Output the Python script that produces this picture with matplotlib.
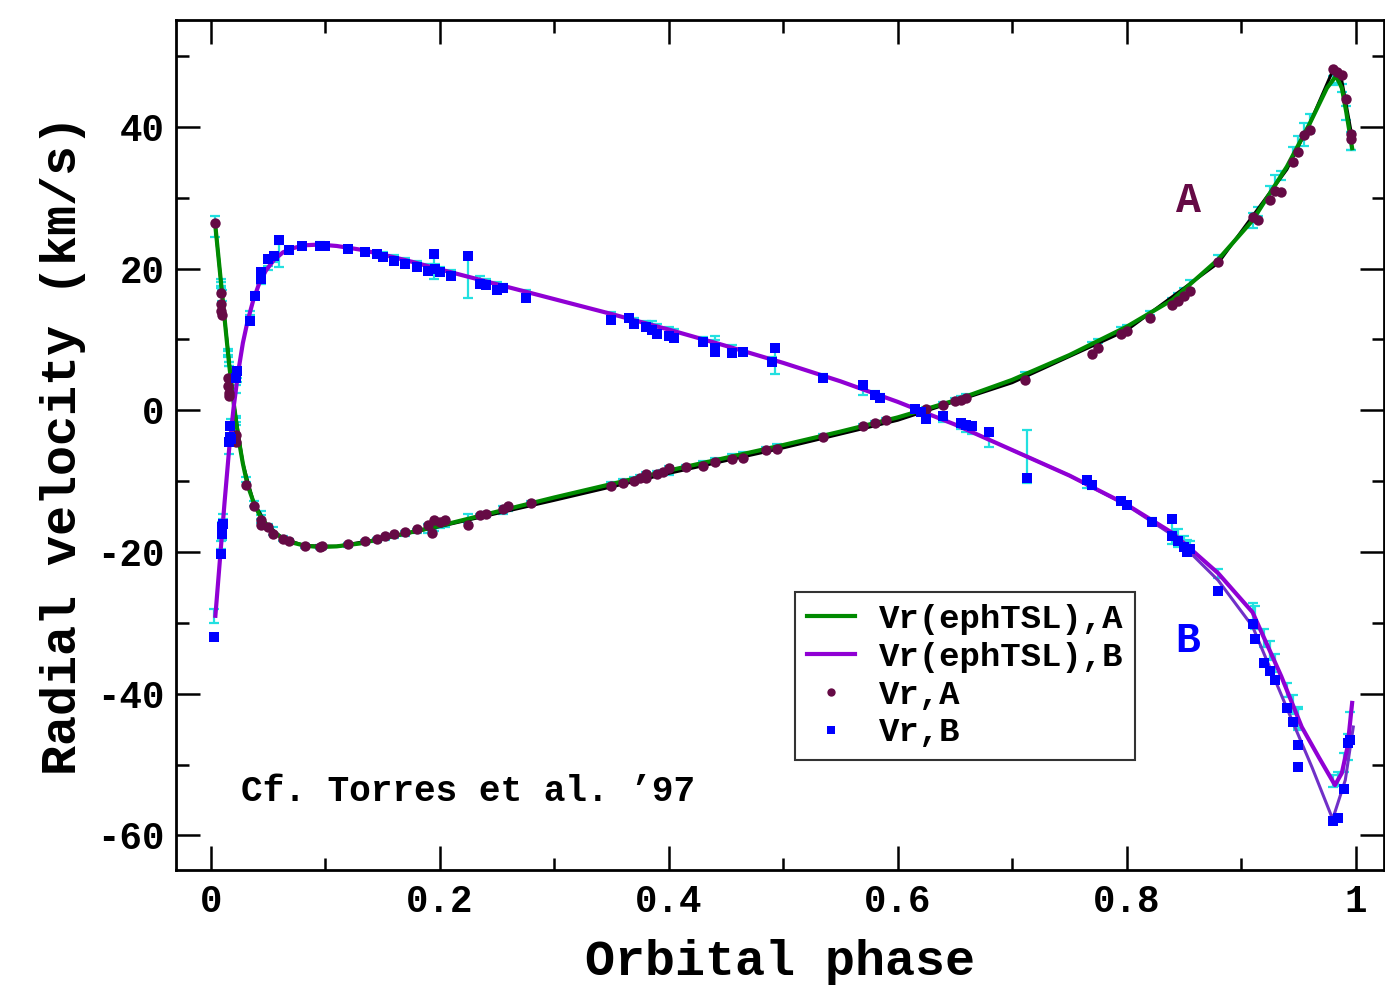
import matplotlib

matplotlib.use("Agg")
import matplotlib.pyplot as plt
from matplotlib.ticker import MultipleLocator, FuncFormatter
import numpy as np

plt.rcParams["font.family"] = ["Liberation Mono", "DejaVu Sans Mono"]
plt.rcParams["font.weight"] = "bold"
plt.rcParams["axes.unicode_minus"] = False

# model curves (ephTSL)
model_a_phase = [0.004, 0.008, 0.012, 0.016, 0.020, 0.024, 0.028, 0.032, 0.037, 0.042,
                 0.048, 0.055, 0.063, 0.072, 0.082, 0.095, 0.11, 0.13, 0.15, 0.175,
                 0.20, 0.25, 0.30, 0.35, 0.40, 0.45, 0.50, 0.55, 0.60, 0.65,
                 0.70, 0.75, 0.80, 0.84, 0.88, 0.91, 0.94, 0.96, 0.975, 0.983,
                 0.988, 0.992, 0.997]
model_a_vr = [26.0, 19.5, 13.0, 6.5, 1.0, -3.8, -7.5, -10.5, -12.8, -14.6,
              -16.0, -17.2, -18.1, -18.7, -19.1, -19.3, -19.2, -18.8, -18.1, -17.2,
              -16.3, -14.3, -12.3, -10.4, -8.5, -6.7, -4.9, -3.0, -1.0, 1.4,
              4.3, 7.8, 11.8, 15.6, 21.3, 26.8, 34.4, 40.5, 45.5, 47.2,
              45.5, 42.0, 37.0]

# thin black reference curve under A
ref_a_phase = [0.004, 0.012, 0.020, 0.028, 0.037, 0.048, 0.063, 0.082, 0.11, 0.15,
               0.20, 0.30, 0.40, 0.50, 0.60, 0.70, 0.80, 0.88, 0.94, 0.96,
               0.981, 0.988, 0.992, 0.997]
ref_a_vr = [26.0, 13.0, 1.0, -7.5, -12.8, -16.0, -18.1, -19.1, -19.2, -18.1,
            -16.4, -12.7, -8.9, -5.3, -1.4, 3.9, 11.3, 20.8, 34.0, 40.5,
            48.3, 46.5, 43.0, 38.5]

model_b_phase = [0.004, 0.008, 0.012, 0.016, 0.020, 0.024, 0.028, 0.032, 0.037, 0.042,
                 0.048, 0.055, 0.063, 0.072, 0.082, 0.095, 0.11, 0.13, 0.15, 0.175,
                 0.20, 0.25, 0.30, 0.35, 0.40, 0.45, 0.50, 0.55, 0.60, 0.65,
                 0.70, 0.75, 0.80, 0.84, 0.88, 0.91, 0.935, 0.953, 0.968, 0.982,
                 0.988, 0.993, 0.997]
model_b_vr = [-29.0, -21.0, -13.0, -5.5, 0.5, 5.5, 9.5, 12.5, 15.5, 17.8,
              19.7, 21.2, 22.3, 22.9, 23.3, 23.4, 23.2, 22.7, 22.0, 21.0,
              19.9, 17.8, 15.7, 13.6, 11.4, 9.1, 6.7, 4.1, 1.2, -2.0,
              -5.6, -9.2, -13.3, -17.3, -23.0, -28.5, -37.5, -44.7, -49.0, -52.9,
              -51.2, -47.5, -41.3]

# second (darker) B curve, differs only near periastron
alt_b_phase = [0.70, 0.75, 0.80, 0.84, 0.88, 0.91, 0.942, 0.962, 0.980, 0.991, 0.998]
alt_b_vr = [-5.6, -9.2, -13.4, -17.6, -24.0, -30.5, -42.8, -50.4, -57.7, -52.2, -44.7]

# observed radial velocities, component A
phase_a = [0.004, 0.009, 0.009, 0.009, 0.010, 0.015, 0.015, 0.016, 0.016, 0.022,
           0.022, 0.031, 0.038, 0.044, 0.044, 0.050, 0.054, 0.063, 0.068, 0.082,
           0.095, 0.097, 0.120, 0.135, 0.145, 0.152, 0.160, 0.170, 0.180, 0.190,
           0.193, 0.195, 0.200, 0.205, 0.225, 0.235, 0.240, 0.255, 0.260, 0.280,
           0.350, 0.360, 0.370, 0.375, 0.380, 0.380, 0.390, 0.395, 0.400, 0.415,
           0.430, 0.440, 0.455, 0.465, 0.485, 0.495, 0.535, 0.570, 0.580, 0.590,
           0.625, 0.640, 0.650, 0.655, 0.660, 0.711, 0.770, 0.775, 0.795, 0.800,
           0.820, 0.840, 0.845, 0.850, 0.855, 0.880, 0.910, 0.915, 0.925, 0.930,
           0.935, 0.945, 0.950, 0.955, 0.960, 0.980, 0.984, 0.988, 0.992, 0.996,
           0.996]
vr_a = [26.5, 16.5, 15.0, 14.0, 13.5, 4.5, 3.5, 2.5, 2.0, -3.5,
        -4.5, -10.5, -13.5, -15.5, -16.2, -16.5, -17.5, -18.2, -18.5, -19.2,
        -19.3, -19.2, -18.8, -18.5, -18.1, -17.7, -17.5, -17.2, -16.8, -16.2,
        -17.3, -15.5, -15.7, -15.5, -16.2, -14.8, -14.6, -13.9, -13.5, -13.1,
        -10.7, -10.2, -10.0, -9.5, -9.0, -9.6, -9.0, -8.7, -8.2, -8.0,
        -7.8, -7.3, -6.9, -6.7, -5.6, -5.5, -3.8, -2.2, -1.8, -1.3,
        0.2, 0.7, 1.3, 1.5, 1.8, 4.3, 8.0, 8.8, 10.8, 11.2,
        13.1, 14.8, 15.5, 16.2, 16.8, 21.0, 27.3, 26.8, 29.7, 31.0,
        30.8, 35.0, 36.5, 38.8, 39.6, 48.2, 47.8, 47.3, 44.0, 39.0,
        38.3]
err_a = [1.5, 0.6, 0.3, 0.3, 0.8, 0.6, 0.3, 0.3, 0.3, 0.6,
         0.3, 0.3, 0.3, 0.8, 0.3, 0.3, 0.6, 0.3, 0.3, 0.3,
         0.3, 0.3, 0.3, 0.3, 0.3, 0.3, 0.3, 0.3, 0.3, 0.6,
         0.3, 0.6, 0.3, 0.3, 0.6, 0.3, 0.3, 0.6, 0.3, 0.3,
         0.3, 0.3, 0.3, 0.3, 0.6, 0.3, 0.3, 0.3, 0.6, 0.3,
         0.3, 0.3, 0.3, 0.3, 0.3, 0.3, 0.3, 0.3, 0.3, 0.3,
         0.3, 0.3, 0.3, 0.3, 0.3, 0.3, 0.3, 0.3, 0.3, 0.3,
         0.3, 0.3, 0.3, 0.3, 0.6, 0.6, 1.0, 0.6, 1.0, 1.3,
         0.6, 1.3, 1.3, 1.6, 1.3, 0.6, 0.6, 0.6, 1.0, 1.3,
         1.3]

# observed radial velocities, component B
phase_b = [0.003, 0.009, 0.010, 0.010, 0.011, 0.016, 0.017, 0.017, 0.018, 0.022,
           0.023, 0.034, 0.039, 0.044, 0.044, 0.050, 0.055, 0.060, 0.068, 0.080,
           0.095, 0.100, 0.120, 0.135, 0.145, 0.150, 0.160, 0.170, 0.180, 0.190,
           0.195, 0.196, 0.200, 0.210, 0.225, 0.235, 0.240, 0.250, 0.255, 0.275,
           0.350, 0.365, 0.370, 0.380, 0.385, 0.390, 0.400, 0.405, 0.430, 0.440,
           0.440, 0.455, 0.465, 0.490, 0.493, 0.535, 0.570, 0.580, 0.585, 0.615,
           0.620, 0.625, 0.640, 0.655, 0.660, 0.665, 0.680, 0.713, 0.765, 0.770,
           0.795, 0.800, 0.822, 0.840, 0.840, 0.845, 0.850, 0.853, 0.855, 0.880,
           0.910, 0.912, 0.920, 0.925, 0.930, 0.940, 0.945, 0.950, 0.950, 0.980,
           0.985, 0.990, 0.993, 0.995]
vr_b = [-32.0, -20.3, -17.5, -16.5, -16.0, -4.5, -3.7, -2.2, -4.0, 4.5,
        5.6, 12.6, 16.2, 18.5, 19.5, 21.3, 21.8, 24.0, 22.7, 23.2,
        23.2, 23.2, 22.8, 22.3, 22.0, 21.6, 21.1, 20.7, 20.3, 19.7,
        22.0, 20.0, 19.5, 19.0, 21.8, 17.8, 17.7, 17.0, 17.2, 15.9,
        12.8, 13.0, 12.2, 11.7, 11.3, 10.8, 10.5, 10.2, 9.6, 8.2,
        8.8, 8.1, 8.3, 6.8, 8.8, 4.6, 3.6, 2.2, 1.7, 0.2,
        -0.2, -1.2, -0.8, -1.8, -2.0, -2.2, -3.0, -9.5, -9.8, -10.5,
        -12.8, -13.3, -15.7, -15.3, -17.8, -18.5, -19.3, -20.0, -19.6, -25.5,
        -30.2, -32.3, -35.6, -36.8, -38.0, -42.0, -44.0, -47.2, -50.3, -58.0,
        -57.5, -53.5, -47.0, -46.5]
err_b = [1.0, 0.6, 1.3, 0.3, 0.3, 0.6, 0.3, 0.3, 1.3, 0.6,
         0.3, 0.3, 0.3, 0.6, 0.3, 0.3, 0.3, 1.6, 0.3, 0.3,
         0.3, 0.3, 0.3, 0.3, 0.3, 0.3, 0.3, 0.3, 0.3, 0.3,
         1.6, 0.6, 0.3, 0.3, 3.0, 0.6, 0.3, 0.3, 0.3, 0.3,
         0.3, 0.3, 0.3, 0.3, 0.6, 0.3, 0.3, 0.3, 0.3, 1.0,
         0.3, 0.3, 0.3, 0.3, 1.9, 0.3, 0.8, 0.3, 0.3, 0.3,
         0.3, 0.3, 0.3, 0.3, 0.3, 0.3, 1.0, 3.7, 0.6, 0.3,
         0.3, 0.3, 0.3, 0.3, 1.6, 1.3, 1.0, 0.8, 1.0, 0.6,
         1.3, 1.6, 1.3, 1.3, 1.3, 1.0, 1.3, 1.3, 1.6, 0.8,
         1.0, 1.3, 1.8, 1.8]

fig = plt.figure(figsize=(13.85, 9.99), dpi=100)
ax = fig.add_axes([0.127, 0.129, 0.872, 0.851])

# error bars are drawn around the model value at each phase
cen_a = np.interp(phase_a, model_a_phase, model_a_vr)
cen_b = np.interp(phase_b, model_b_phase, model_b_vr)
for ph, cen, er in ((phase_a, cen_a, err_a), (phase_b, cen_b, err_b)):
    ax.errorbar(ph, cen, yerr=er, fmt="none", ecolor="#22e0e0",
                elinewidth=1.6, capsize=3.5, capthick=1.6, zorder=1)

ax.plot(ref_a_phase, ref_a_vr, color="black", linewidth=2.2, zorder=2)
line_a, = ax.plot(model_a_phase, model_a_vr, color="#008a00", linewidth=3.0,
                  zorder=3, label="Vr(ephTSL),A")
ax.plot(alt_b_phase, alt_b_vr, color="#7030c8", linewidth=2.2, zorder=2)
line_b, = ax.plot(model_b_phase, model_b_vr, color="#9000d4", linewidth=3.0,
                  zorder=3, label="Vr(ephTSL),B")
pts_a, = ax.plot(phase_a, vr_a, "o", color="#650a45", markersize=7.5,
                 markeredgewidth=0, zorder=4, label="Vr,A")
pts_b, = ax.plot(phase_b, vr_b, "s", color="#0000ff", markersize=6.5,
                 markeredgewidth=0, zorder=5, label="Vr,B")

ax.set_xlim(-0.0305, 1.0245)
ax.set_ylim(-64.9, 55.1)

ax.xaxis.set_major_locator(MultipleLocator(0.2))
ax.xaxis.set_minor_locator(MultipleLocator(0.1))
ax.yaxis.set_major_locator(MultipleLocator(20))
ax.yaxis.set_minor_locator(MultipleLocator(10))
ax.xaxis.set_major_formatter(FuncFormatter(lambda v, p: f"{v:g}"))
ax.yaxis.set_major_formatter(FuncFormatter(lambda v, p: f"{v:g}"))
ax.tick_params(which="both", direction="in", top=True, right=True, width=1.8,
               labelsize=27)
ax.tick_params(which="major", length=17)
ax.tick_params(which="minor", length=9)
ax.tick_params(axis="x", pad=10)
ax.tick_params(axis="y", pad=8)
for lbl in ax.get_xticklabels() + ax.get_yticklabels():
    lbl.set_fontweight("bold")
for sp in ax.spines.values():
    sp.set_linewidth(2.0)

ax.set_xlabel("Orbital phase", fontsize=36, fontweight="bold", labelpad=14)
ax.set_ylabel("Radial velocity (km/s)", fontsize=36, fontweight="bold", labelpad=8)

ax.text(0.854, 29.5, "A", color="#650a45", fontsize=30, fontweight="bold",
        family="Liberation Mono", ha="center", va="center")
ax.text(0.853, -32.5, "B", color="#0000ff", fontsize=30, fontweight="bold",
        family="Liberation Mono", ha="center", va="center")
ax.text(0.026, -53.8, "Cf. Torres et al. \u201997", fontsize=26, fontweight="bold",
        ha="left", va="center")

leg = ax.legend(handles=[line_a, line_b, pts_a, pts_b], loc="upper left",
                bbox_to_anchor=(0.513, 0.327), borderaxespad=0,
                prop={"weight": "bold", "size": 24.5}, frameon=True, fancybox=False,
                handlelength=1.4, handletextpad=0.7, labelspacing=0.2,
                borderpad=0.35, markerscale=0.8)
leg.get_frame().set_edgecolor("black")
leg.get_frame().set_linewidth(1.5)

fig.savefig("out.png", dpi=100)
